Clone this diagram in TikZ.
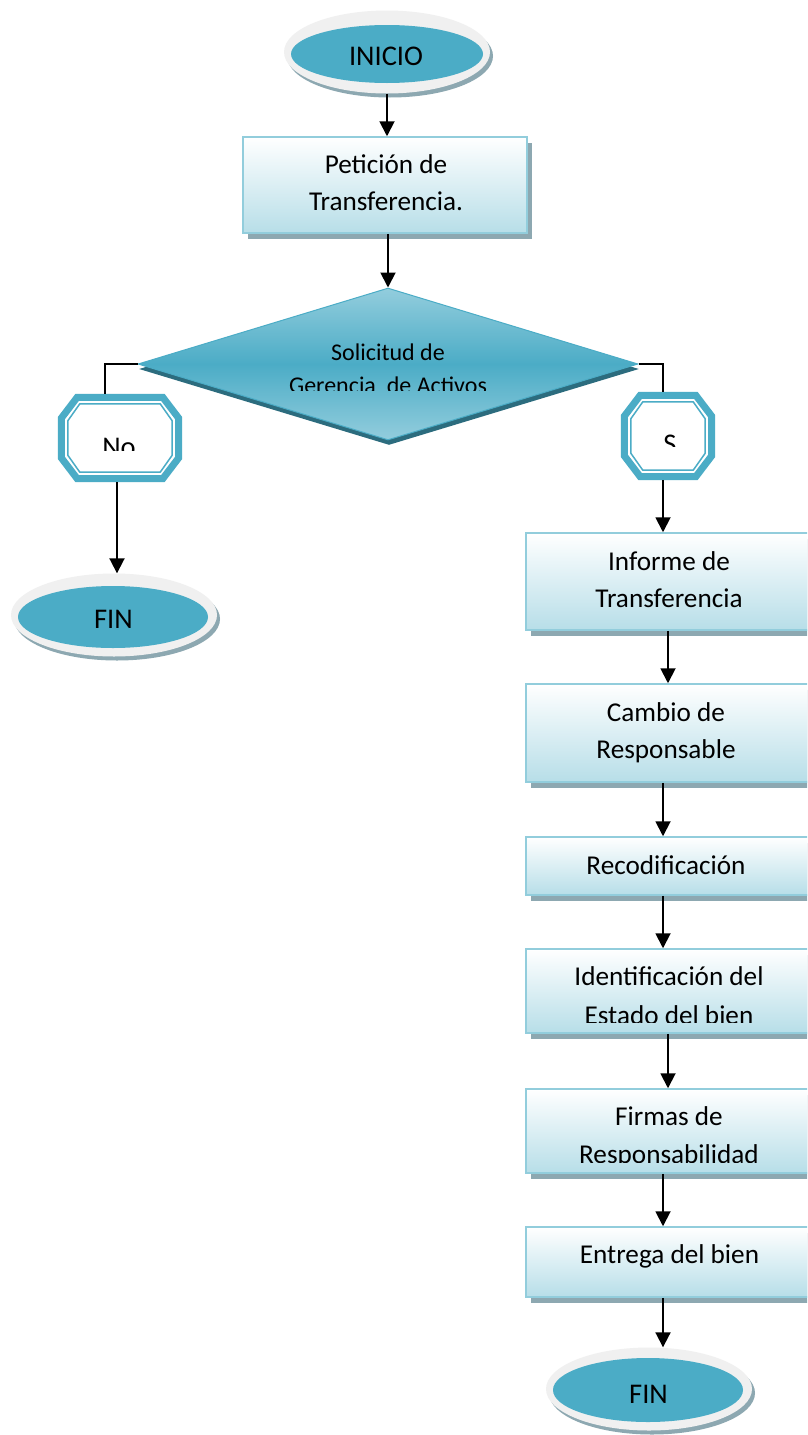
\documentclass[tikz,border=0pt]{standalone}
\usepackage{fontspec}
\setmainfont{Carlito}
\usetikzlibrary{arrows.meta,shapes.geometric,shadows,calc}
\definecolor{tealA}{HTML}{4BACC6}
\definecolor{tealLight}{HTML}{93CDDD}
\definecolor{boxline}{HTML}{92CDDC}
\definecolor{boxbot}{HTML}{B7DEE8}
\definecolor{shadowgray}{HTML}{8DA8B1}
\definecolor{ringgray}{HTML}{F0F0F0}
\definecolor{diashadow}{HTML}{2C6C7E}
\newcommand{\myocta}[3]{% node name, horizontal cut, vertical cut
  \draw[tealA, line width=7pt, fill=white]
    ([xshift=#2+1.4pt,yshift=-3.5pt]#1.north west) -- ([xshift=-#2-1.4pt,yshift=-3.5pt]#1.north east)
    -- ([xshift=-3.5pt,yshift=-#3-1.4pt]#1.north east) -- ([xshift=-3.5pt,yshift=#3+1.4pt]#1.south east)
    -- ([xshift=-#2-1.4pt,yshift=3.5pt]#1.south east) -- ([xshift=#2+1.4pt,yshift=3.5pt]#1.south west)
    -- ([xshift=3.5pt,yshift=#3+1.4pt]#1.south west) -- ([xshift=3.5pt,yshift=-#3-1.4pt]#1.north west) -- cycle;
  \draw[tealA, line width=1.5pt]
    ([xshift=#2+4pt,yshift=-10pt]#1.north west) -- ([xshift=-#2-4pt,yshift=-10pt]#1.north east)
    -- ([xshift=-10pt,yshift=-#3-4pt]#1.north east) -- ([xshift=-10pt,yshift=#3+4pt]#1.south east)
    -- ([xshift=-#2-4pt,yshift=10pt]#1.south east) -- ([xshift=#2+4pt,yshift=10pt]#1.south west)
    -- ([xshift=10pt,yshift=#3+4pt]#1.south west) -- ([xshift=10pt,yshift=-#3-4pt]#1.north west) -- cycle;
}
\begin{document}
\begin{tikzpicture}[x=1pt,y=-1pt,
  procbox/.style={rectangle, draw=boxline, line width=1.5pt, top color=white, bottom color=boxbot,
    inner sep=0pt,
    drop shadow={shadow xshift=5pt, shadow yshift=-6pt, fill=shadowgray, opacity=1}},
  term/.style={ellipse, fill=ringgray, draw=none, inner sep=0pt, minimum width=206pt, minimum height=83pt,
    drop shadow={shadow xshift=3pt, shadow yshift=-4pt, fill=shadowgray, opacity=1}},
  decision/.style={diamond, draw=tealA, line width=1pt, top color=tealLight, bottom color=tealLight, middle color=tealA,
    inner sep=0pt, minimum width=500pt, minimum height=152pt,
    drop shadow={shadow xshift=1pt, shadow yshift=-5pt, fill=diashadow, opacity=1}},
  octframe/.style={rectangle, draw=none, inner sep=0pt, minimum height=88pt},
  txt/.style={font=\fontsize{27.2}{30}\selectfont, inner sep=0pt, anchor=base},
  ttxt/.style={font=\fontsize{28.5}{30}\selectfont, inner sep=0pt, anchor=base},
  dtxt/.style={font=\fontsize{24}{28}\selectfont, inner sep=0pt, anchor=base},
  arr/.style={-{Triangle[length=15pt,width=15pt]}, line width=1.9pt, black},
  conn/.style={line width=1.6pt, black}
]
\useasboundingbox (0,0) rectangle (807,1435);
\clip (0,0) rectangle (807,1435);
\fill[white] (0,0) rectangle (807,1435);

% terminals
\node[term] (inicio) at (387,52) {};
\fill[tealA] (387,54) ellipse [x radius=96, y radius=29];
\node[ttxt] (t-inicio) at (386,65) {INICIO};

\node[term] (finl) at (114,615) {};
\fill[tealA] (113,617) ellipse [x radius=95, y radius=31];
\node[ttxt] (t-finl) at (113.5,628) {FIN};

\node[term] (finr) at (649,1389) {};
\fill[tealA] (648,1390) ellipse [x radius=95, y radius=32];
\node[ttxt] (t-finr) at (648.5,1403) {FIN};

% process boxes
\node[procbox, minimum width=284pt, minimum height=96pt] (pet) at (385,185) {};
\node[txt] (t-pet1) at (386,173) {Petición de};
\node[txt] (t-pet2) at (386,210) {Transferencia.};

\node[procbox, minimum width=310pt, minimum height=97pt] (inf) at (681,581.5) {};
\node[procbox, minimum width=310pt, minimum height=98pt] (cam) at (681,733) {};
\node[procbox, minimum width=310pt, minimum height=58pt] (rec) at (681,866) {};
\node[procbox, minimum width=310pt, minimum height=84pt] (ide) at (681,991) {};
\node[procbox, minimum width=310pt, minimum height=84pt] (fir) at (681,1131) {};
\node[procbox, minimum width=310pt, minimum height=70pt] (ent) at (681,1262) {};

\node[txt] (t-inf1) at (669,570) {Informe de};
\node[txt] (t-inf2) at (669,607) {Transferencia};
\node[txt] (t-cam1) at (666,721) {Cambio de};
\node[txt] (t-cam2) at (666,758) {Responsable};
\node[txt] (t-rec) at (666,874) {Recodificación};
\node[txt] (t-ide1) at (669,985) {Identificación del};
\begin{scope}
  \clip (530,990) rectangle (805,1022.5);
  \node[txt] (t-ide2) at (669,1024) {Estado del bien};
\end{scope}
\node[txt] (t-fir1) at (669,1125) {Firmas de};
\begin{scope}
  \clip (530,1130) rectangle (805,1162.5);
  \node[txt] (t-fir2) at (669,1163) {Responsabilidad};
\end{scope}
\node[txt] (t-ent) at (669.5,1263) {Entrega del bien};

% decision
\node[decision] (dia) at (388,364) {};
\node[dtxt] (t-dia1) at (388,360) {Solicitud de};
\begin{scope}
  \clip (150,300) rectangle (630,390);
  \node[dtxt] (t-dia2) at (388,393) {Gerencia\ \ de Activos};
\end{scope}

% octagons
\node[octframe, minimum width=124pt] (no) at (120,438) {};
\myocta{no}{18pt}{23pt}
\begin{scope}
  \clip (70,400) rectangle (170,450);
  \node[ttxt] (t-no) at (119,456) {No};
\end{scope}

\node[octframe, minimum width=94pt] (si) at (668,436) {};
\myocta{si}{18pt}{23pt}
\begin{scope}
  \clip (630,400) rectangle (705,446);
  \node[ttxt] (t-si) at (670,453) {S};
\end{scope}

% connectors
\draw[arr] (inicio.south) -- (inicio.south |- pet.north);
\draw[arr] (pet.south -| dia.north) -- (dia.north);
\draw[conn] (dia.west) -| ([xshift=-15pt]no.north);
\draw[conn] (dia.east) -| ([xshift=-5pt]si.north);
\draw[arr] ([xshift=-3pt]no.south) -- ([xshift=-3pt]no.south |- finl.north);
\draw[arr] ([xshift=-5pt]si.south) -- ([xshift=-5pt]si.south |- inf.north);
\draw[arr] ([xshift=-13pt]inf.south) -- ([xshift=-13pt]cam.north);
\draw[arr] ([xshift=-18pt]cam.south) -- ([xshift=-18pt]rec.north);
\draw[arr] ([xshift=-18pt]rec.south) -- ([xshift=-18pt]ide.north);
\draw[arr] ([xshift=-13pt]ide.south) -- ([xshift=-13pt]fir.north);
\draw[arr] ([xshift=-18pt]fir.south) -- ([xshift=-18pt]ent.north);
\draw[arr] ([xshift=-18pt]ent.south) -- ([xshift=-18pt]ent.south |- finr.north);
\end{tikzpicture}
\end{document}
